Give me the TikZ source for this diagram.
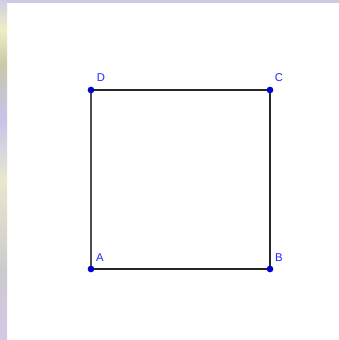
\documentclass[tikz,border=0pt]{standalone}
\usepackage{fontspec}
\setmainfont{Liberation Sans}
\begin{document}
\begin{tikzpicture}[x=0.75pt,y=-0.75pt,
  edge/.style={draw=black!85, line width=1.1pt},
  pt/.style={circle, fill=blue!80!black, inner sep=0pt, minimum size=5pt},
  lbl/.style={text=blue!85!white, font=\fontsize{8.5}{9}\selectfont, inner sep=0pt}]
\useasboundingbox (0,0) rectangle (339,340);
\fill[white] (0,0) rectangle (339,340);
% decorative border strips
\fill[color={rgb,255:red,205;green,200;blue,228}] (0,0) rectangle (339,3);
\shade[top color={rgb,255:red,210;green,205;blue,230}, bottom color={rgb,255:red,238;green,238;blue,195}] (0,0) rectangle (7,30);
\shade[top color={rgb,255:red,238;green,238;blue,195}, bottom color={rgb,255:red,200;green,200;blue,170}] (0,30) rectangle (7,65);
\shade[top color={rgb,255:red,200;green,200;blue,170}, bottom color={rgb,255:red,200;green,195;blue,235}] (0,65) rectangle (7,120);
\shade[top color={rgb,255:red,200;green,195;blue,235}, bottom color={rgb,255:red,232;green,232;blue,205}] (0,120) rectangle (7,180);
\shade[top color={rgb,255:red,232;green,232;blue,205}, bottom color={rgb,255:red,205;green,202;blue,205}] (0,180) rectangle (7,270);
\shade[top color={rgb,255:red,205;green,202;blue,205}, bottom color={rgb,255:red,210;green,200;blue,232}] (0,270) rectangle (7,340);
% points
\coordinate (a) at (91,269);
\coordinate (b) at (270,269);
\coordinate (c) at (270,90);
\coordinate (d) at (91,90);
\draw[edge] (a) -- (b) -- (c) -- (d);
\draw[draw=black!70, line width=1.5pt] (d) -- (a);
\node[pt] (pa) at (a) {};
\node[pt] (pb) at (b) {};
\node[pt] (pc) at (c) {};
\node[pt] (pd) at (d) {};
\node[lbl] (la) at (100,258) {A};
\node[lbl] (lb) at (279,258) {B};
\node[lbl] (lc) at (279,78) {C};
\node[lbl] (ld) at (101,78) {D};
\end{tikzpicture}
\end{document}
